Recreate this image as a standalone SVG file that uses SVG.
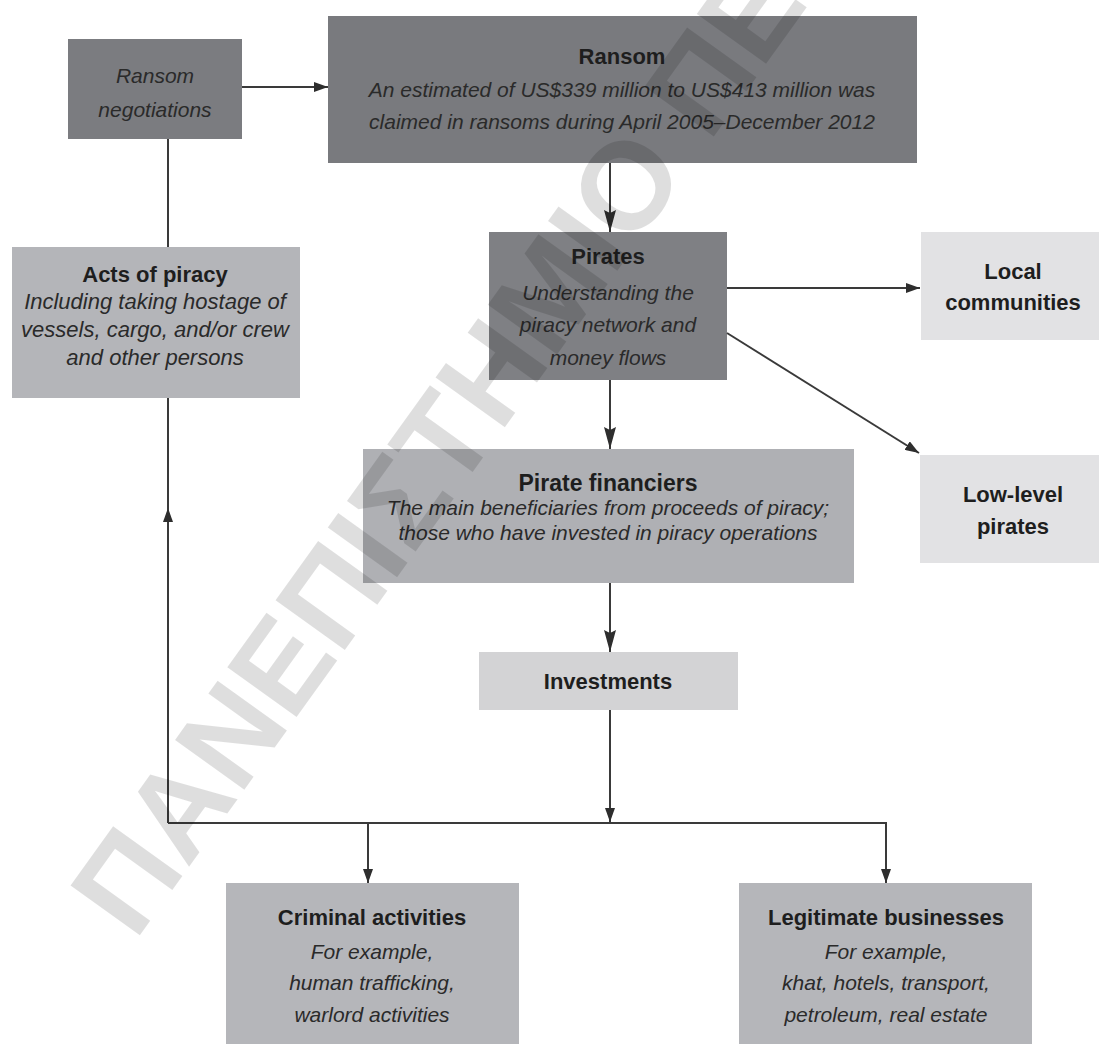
<svg xmlns="http://www.w3.org/2000/svg" width="1099" height="1044" viewBox="0 0 1099 1044">
<defs>
<style>
.bt{font-family:"Liberation Sans",Arial,sans-serif;font-weight:bold;font-size:22px;fill:#1e1e1e;text-anchor:middle}
.it{font-family:"Liberation Sans",Arial,sans-serif;font-style:italic;font-size:21px;fill:#2a2a2a;text-anchor:middle}
.wm{font-family:"Liberation Sans",Arial,sans-serif;font-weight:bold;font-size:124px;fill:#000;fill-opacity:0.13}
</style>
<marker id="sm" markerUnits="userSpaceOnUse" markerWidth="14" markerHeight="10" viewBox="0 0 14 10" refX="14" refY="5" orient="auto">
<path d="M0,0 L14,5 L0,10 z" fill="#2e2e2e"/>
</marker>
<marker id="bg" markerUnits="userSpaceOnUse" markerWidth="22" markerHeight="12" viewBox="0 0 22 12" refX="22" refY="6" orient="auto">
<path d="M0,0 L22,6 L0,12 L3,6 z" fill="#2e2e2e"/>
</marker>
</defs>
<rect width="1099" height="1044" fill="#ffffff"/>

<g id="n_negotiations">
<rect x="68" y="39" width="174" height="100" fill="#7b7c80"/>
<text class="it" x="155" y="83">Ransom</text>
<text class="it" x="155" y="117">negotiations</text>
</g>

<g id="n_ransom">
<rect x="328" y="16" width="589" height="147" fill="#797a7e"/>
<text class="bt" x="622" y="64">Ransom</text>
<text class="it" x="622" y="97">An estimated of US$339 million to US$413 million was</text>
<text class="it" x="622" y="129">claimed in ransoms during April 2005–December 2012</text>
</g>

<g id="n_acts">
<rect x="12" y="247" width="288" height="151" fill="#b4b5b9"/>
<text class="bt" x="155" y="282">Acts of piracy</text>
<text class="it" x="155" y="309" style="font-size:22px">Including taking hostage of</text>
<text class="it" x="155" y="337" style="font-size:22px">vessels, cargo, and/or crew</text>
<text class="it" x="155" y="365" style="font-size:22px">and other persons</text>
</g>

<g id="n_pirates">
<rect x="489" y="232" width="238" height="148" fill="#7f8084"/>
<text class="bt" x="608" y="264">Pirates</text>
<text class="it" x="608" y="300">Understanding the</text>
<text class="it" x="608" y="332">piracy network and</text>
<text class="it" x="608" y="365">money flows</text>
</g>

<g id="n_local">
<rect x="921" y="232" width="190" height="108" fill="#e2e2e4"/>
<text class="bt" x="1013" y="279">Local</text>
<text class="bt" x="1013" y="310">communities</text>
</g>

<g id="n_lowlevel">
<rect x="920" y="455" width="190" height="108" fill="#e2e2e4"/>
<text class="bt" x="1013" y="502">Low-level</text>
<text class="bt" x="1013" y="534">pirates</text>
</g>

<g id="n_financiers">
<rect x="363" y="449" width="491" height="134" fill="#afb0b4"/>
<text class="bt" x="608" y="491" style="font-size:23px">Pirate financiers</text>
<text class="it" x="608" y="515">The main beneficiaries from proceeds of piracy;</text>
<text class="it" x="608" y="540">those who have invested in piracy operations</text>
</g>

<g id="n_investments">
<rect x="479" y="652" width="259" height="58" fill="#d3d3d5"/>
<text class="bt" x="608" y="689">Investments</text>
</g>

<g id="n_criminal">
<rect x="226" y="883" width="293" height="170" fill="#b5b6ba"/>
<text class="bt" x="372" y="925">Criminal activities</text>
<text class="it" x="372" y="959">For example,</text>
<text class="it" x="372" y="990">human trafficking,</text>
<text class="it" x="372" y="1022">warlord activities</text>
</g>

<g id="n_legit">
<rect x="739" y="883" width="293" height="170" fill="#b5b6ba"/>
<text class="bt" x="886" y="925">Legitimate businesses</text>
<text class="it" x="886" y="959">For example,</text>
<text class="it" x="886" y="990">khat, hotels, transport,</text>
<text class="it" x="886" y="1022">petroleum, real estate</text>
</g>

<g id="connectors" fill="none" stroke="#3a3a3a" stroke-width="2">
<path d="M242,87 H328" marker-end="url(#sm)"/>
<path d="M610,163 V232" marker-end="url(#bg)"/>
<path d="M727,288 H920" marker-end="url(#sm)"/>
<path d="M727,333 L919,453" marker-end="url(#sm)"/>
<path d="M610,380 V449" marker-end="url(#bg)"/>
<path d="M610,583 V652" marker-end="url(#bg)"/>
<path d="M610,710 V822" marker-end="url(#sm)"/>
<path d="M168,823 H886 V883" marker-end="url(#sm)"/>
<path d="M368,823 V883" marker-end="url(#sm)"/>
<path d="M168,823 V508" marker-end="url(#sm)"/>
<path d="M168,510 V398"/>
<path d="M168,247 V139"/>
</g>

<g id="watermark">
<text class="wm" x="135" y="942" transform="rotate(-54.3 135 942)">ΠΑΝΕΠΙΣΤΗΜΙΟ ΠΕ</text>
</g>
</svg>
